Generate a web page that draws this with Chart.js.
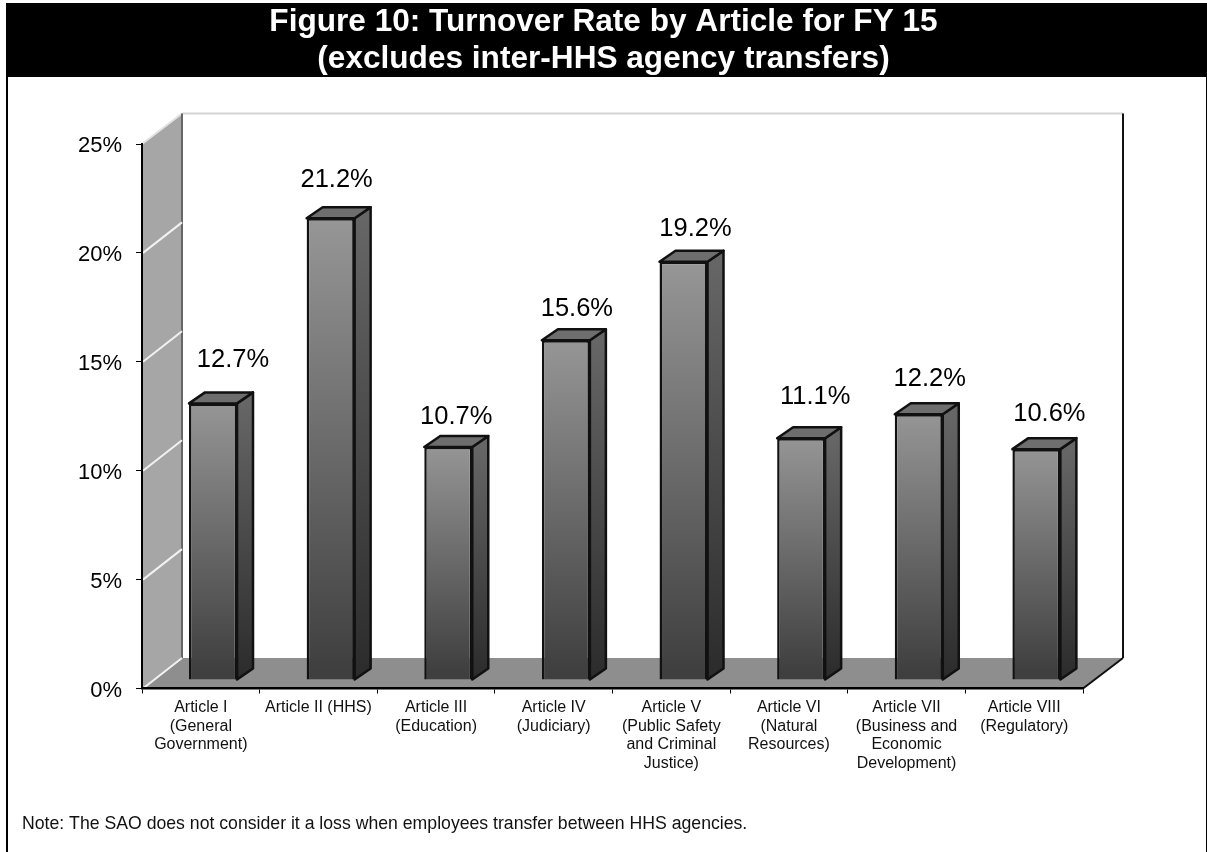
<!DOCTYPE html>
<html>
<head>
<meta charset="utf-8">
<style>html,body{margin:0;padding:0;background:#fff}canvas{display:block}</style>
<script src="https://cdn.jsdelivr.net/npm/chart.js@4/dist/chart.umd.min.js"></script>
</head>
<body>
<canvas id="c" width="1207" height="852"></canvas>
<script>
const categories = [
  ["Article I","(General","Government)"],
  ["Article II (HHS)"],
  ["Article III","(Education)"],
  ["Article IV","(Judiciary)"],
  ["Article V","(Public Safety","and Criminal","Justice)"],
  ["Article VI","(Natural","Resources)"],
  ["Article VII","(Business and","Economic","Development)"],
  ["Article VIII","(Regulatory)"]
];
const turnoverRate = [12.7, 21.2, 10.7, 15.6, 19.2, 11.1, 12.2, 10.6];
const titleLines = ["Figure 10: Turnover Rate by Article for FY 15","(excludes inter-HHS agency transfers)"];
const noteText = "Note: The SAO does not consider it a loss when employees transfer between HHS agencies.";

// layout of the pseudo-3D scene
const FONT = '"Liberation Sans", Arial, sans-serif';
const AREA = {left:142, right:1083, top:144, bottom:688.5};
const WALL = {dx:40, dy:-30.5};
const BAR_SHIFT = {x:12.2, y:-8.5};
const BAR_DEPTH = {dx:16, dy:-11};
const labelNudgeX = [20, 6, 8, 11, 12, 14, 11, 13];
const labelNudgeY = [-43, -38, -30, -31, -33, -41, -35, -35];

function poly(ctx, pts, fill, stroke, lw) {
  ctx.beginPath();
  pts.forEach((p,i)=> i ? ctx.lineTo(p[0],p[1]) : ctx.moveTo(p[0],p[1]));
  ctx.closePath();
  if (fill) { ctx.fillStyle = fill; ctx.fill(); }
  if (stroke) { ctx.strokeStyle = stroke; ctx.lineWidth = lw; ctx.lineJoin='round'; ctx.stroke(); }
}
function seg(ctx, x1,y1,x2,y2,color,lw){
  ctx.beginPath();ctx.moveTo(x1,y1);ctx.lineTo(x2,y2);ctx.strokeStyle=color;ctx.lineWidth=lw;ctx.stroke();
}

const scene = {
  id:'scene',
  beforeDraw(chart){
    const ctx = chart.ctx, {left,right,top,bottom} = chart.chartArea, y = chart.scales.y;
    ctx.save();
    ctx.fillStyle='#fff'; ctx.fillRect(0,0,chart.width,chart.height);
    ctx.fillStyle='#000'; ctx.fillRect(6,3,chart.width-6,74);
    ctx.fillRect(6,3,2,chart.height-3);
    ctx.fillRect(1206,3,1,chart.height-3);
    const dx=WALL.dx, dy=WALL.dy;
    // left wall and floor
    poly(ctx,[[left,top],[left+dx,top+dy],[left+dx,bottom+dy],[left,bottom]],'#a6a6a6');
    poly(ctx,[[left,bottom],[left+dx,bottom+dy],[right+dx,bottom+dy],[right,bottom]],'#8e8e8e');
    // back edges
    seg(ctx,left+dx,top+dy,right+dx,top+dy,'#d4d4d4',2);
    seg(ctx,left,top,left+dx,top+dy,'#e2e2e2',2);
    seg(ctx,left+dx,top+dy,left+dx,bottom+dy,'#666',2);
    seg(ctx,right+dx,top+dy,right+dx,bottom+dy,'#111',2);
    seg(ctx,right,bottom,right+dx,bottom+dy,'#111',2);
    // wall grid lines follow the value scale
    y.ticks.forEach(t=>{
      if (t.value>=25) return;
      const py=y.getPixelForValue(t.value);
      seg(ctx,left+1,py,left+dx,py+dy,'#f2f2f2',2);
    });
    ctx.restore();
  },
  beforeDatasetDraw(chart){
    const ctx = chart.ctx;
    ctx.save();
    ctx.translate(BAR_SHIFT.x,BAR_SHIFT.y);
    ctx.lineJoin='round';
    chart.getDatasetMeta(0).data.forEach(b=>{
      const l=b.x-b.width/2, r=b.x+b.width/2, t=b.y, bt=b.base;
      const d=BAR_DEPTH;
      const g=ctx.createLinearGradient(0,t,0,bt);
      g.addColorStop(0,'#666');g.addColorStop(1,'#2b2b2b');
      poly(ctx,[[r,t],[r+d.dx,t+d.dy],[r+d.dx,bt+d.dy],[r,bt]],g,'#111',2.5);
      poly(ctx,[[l,t],[l+d.dx,t+d.dy],[r+d.dx,t+d.dy],[r,t]],'#6e6e6e','#111',2.5);
    });
  },
  afterDatasetDraw(chart){ chart.ctx.restore(); },
  afterDatasetsDraw(chart){
    const ctx = chart.ctx;
    ctx.save();
    ctx.fillStyle='#000';
    ctx.font='25.5px '+FONT;
    ctx.textAlign='center';ctx.textBaseline='middle';
    chart.getDatasetMeta(0).data.forEach((b,i)=>{
      ctx.fillText(turnoverRate[i].toFixed(1)+'%', b.x+BAR_SHIFT.x+labelNudgeX[i], b.y+BAR_SHIFT.y+labelNudgeY[i]);
    });
    ctx.font='17.67px '+FONT;
    ctx.textAlign='left';ctx.textBaseline='alphabetic';
    ctx.fillStyle='#111';
    ctx.fillText(noteText,22,829);
    ctx.restore();
  }
};

const TITLE_SIZE=31.6, TITLE_LH=1.17, TITLE_TOP=3.5;

new Chart(document.getElementById('c'),{
  type:'bar',
  data:{
    labels:categories,
    datasets:[{
      data:turnoverRate,
      clip:false,
      borderColor:'#111',
      borderWidth:2.5,
      barPercentage:0.408,
      categoryPercentage:1,
      backgroundColor(c){
        const {chart,dataIndex}=c;
        if(!chart.chartArea||dataIndex===undefined) return '#666';
        const y=chart.scales.y;
        const g=chart.ctx.createLinearGradient(0,y.getPixelForValue(turnoverRate[dataIndex])+BAR_SHIFT.y,0,y.getPixelForValue(0)+BAR_SHIFT.y);
        g.addColorStop(0,'#989898');g.addColorStop(1,'#3f3f3f');
        return g;
      }
    }]
  },
  options:{
    responsive:false,
    animation:false,
    layout:{padding:0},
    plugins:{
      legend:{display:false},
      tooltip:{enabled:false},
      title:{
        display:true,
        text:titleLines,
        color:'#fff',
        font:{family:FONT,size:TITLE_SIZE,weight:'bold',lineHeight:TITLE_LH},
        padding:{top:TITLE_TOP,bottom:AREA.top-TITLE_TOP-2*TITLE_SIZE*TITLE_LH}
      }
    },
    scales:{
      x:{
        type:'category',
        afterFit(s){s.height=852-AREA.bottom;},
        border:{color:'#000',width:2.5},
        grid:{drawOnChartArea:false,tickLength:5,tickColor:'#000',tickWidth:1},
        ticks:{color:'#111',font:{family:FONT,size:16,lineHeight:1.16},padding:5,autoSkip:false,maxRotation:0,minRotation:0}
      },
      y:{
        min:0,max:25,
        afterFit(s){s.width=AREA.left;},
        border:{color:'#000',width:2},
        grid:{drawOnChartArea:false,tickLength:6,tickColor:'#000',tickWidth:1},
        ticks:{stepSize:5,color:'#000',font:{family:FONT,size:22},padding:14,labelOffset:2,callback:v=>v+'%'}
      },
      rightMargin:{
        type:'linear',position:'right',display:true,
        afterFit(s){s.width=1207-AREA.right;},
        border:{display:false},
        grid:{display:false},
        ticks:{display:false}
      }
    }
  },
  plugins:[scene]
});
</script>
</body>
</html>
